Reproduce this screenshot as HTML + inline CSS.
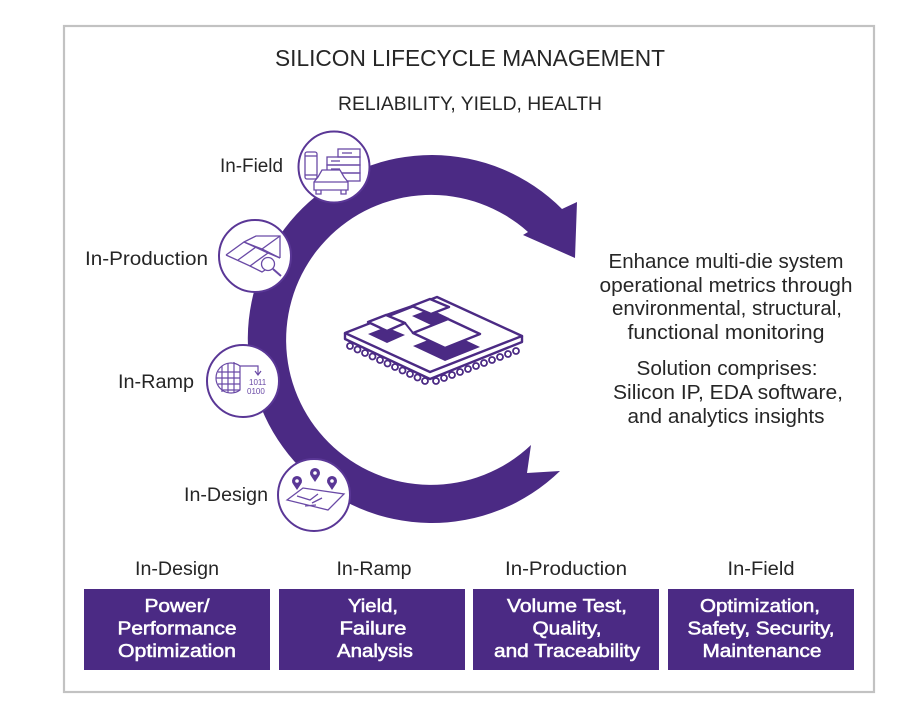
<!DOCTYPE html>
<html>
<head>
<meta charset="utf-8">
<style>
  html,body{margin:0;padding:0;background:#fff;}
  svg{display:block;}
  text{font-family:"Liberation Sans",Arial,sans-serif;}
</style>
</head>
<body>
<svg width="906" height="715" viewBox="0 0 906 715" xmlns="http://www.w3.org/2000/svg">
  <rect width="906" height="715" fill="#fff"/>
  <!-- frame -->
  <rect x="64" y="26" width="810" height="666" fill="#fff" stroke="#c2c2c2" stroke-width="2.2"/>

  <!-- titles -->
  <text x="470" y="66" font-size="23" fill="#262626" text-anchor="middle" textLength="390" lengthAdjust="spacingAndGlyphs">SILICON LIFECYCLE MANAGEMENT</text>
  <text x="470" y="110" font-size="19" fill="#262626" text-anchor="middle" textLength="264" lengthAdjust="spacingAndGlyphs">RELIABILITY, YIELD, HEALTH</text>

  <!-- big arc arrow -->
  <path d="M 560,471 A 184 184 0 1 1 562,209 L 577,202 L 575,258 L 523,235 L 528,232 A 145 145 0 1 0 531,445 L 527,473 Z" fill="#4b2a84"/>

  <!-- circles -->
  <g fill="#fff" stroke="#5a3796" stroke-width="2">
    <circle cx="334" cy="167" r="35.5"/>
    <circle cx="255" cy="256" r="36"/>
    <circle cx="243" cy="381" r="36"/>
    <circle cx="314" cy="495" r="36"/>
  </g>

  <!-- In-Field icon -->
  <g fill="none" stroke="#6a4aa6" stroke-width="1.3">
    <rect x="305" y="152" width="12" height="27" rx="2"/>
    <line x1="305" y1="156" x2="317" y2="156"/>
    <line x1="305" y1="175" x2="317" y2="175"/>
    <rect x="338" y="149" width="22" height="8"/>
    <rect x="327" y="157" width="33" height="8"/>
    <rect x="327" y="165" width="33" height="8"/>
    <rect x="338" y="173" width="22" height="8"/>
    <line x1="342" y1="153" x2="352" y2="153"/>
    <line x1="331" y1="161" x2="340" y2="161"/>
    <line x1="331" y1="169" x2="340" y2="169"/>
    <path d="M314,190 L314,182 L318,177 L322,170 L340,170 L344,177 L348,182 L348,190 Z" fill="#fff"/>
    <line x1="314" y1="182" x2="348" y2="182"/>
    <path d="M316,190 L316,194 L321,194 L321,190 M341,190 L341,194 L346,194 L346,190"/>
  </g>

  <!-- In-Production icon -->
  <g fill="none" stroke="#6a4aa6" stroke-width="1.3">
    <path d="M226,255 L244,242 L262,249 L280,236"/>
    <path d="M226,255 L250,266 L268,253 L280,258"/>
    <path d="M244,242 L268,253 M262,249 L280,258"/>
    <path d="M238,260 L256,247"/>
    <path d="M250,266 L262,272 L268,268"/>
    <path d="M244,242 L256,236 L280,236 L280,258"/>
    <circle cx="268" cy="264" r="6.5" fill="#fff"/>
    <line x1="273" y1="269" x2="281" y2="276" stroke-width="2"/>
  </g>

  <!-- In-Ramp icon -->
  <g fill="none" stroke="#6a4aa6" stroke-width="1.2">
    <path d="M240,366 A15 15 0 1 0 240,390 L240,366 Z"/>
    <path d="M218,372 L240,372 M216,378 L240,378 M218,384 L240,384 M222,390 L240,390"/>
    <path d="M222,366 L222,392 M228,363 L228,393 M234,362 L234,393"/>
    <path d="M240,366 L258,366 L258,374"/>
    <path d="M255,371 L258,375 L261,371"/>
  </g>
  <text x="249" y="385" font-size="8" fill="#6a4aa6" font-family="Liberation Mono,monospace">1011</text>
  <text x="247" y="394" font-size="8" fill="#6a4aa6" font-family="Liberation Mono,monospace">0100</text>

  <!-- In-Design icon -->
  <g fill="none" stroke="#6a4aa6" stroke-width="1.3">
    <path d="M287,500 L303,488 L344,494 L328,510 Z" fill="#fff"/>
    <path d="M297,496 L310,500 L318,494 M312,503 L322,498 M305,506 L316,505"/>
  </g>
  <g fill="#5a3796">
    <path d="M297,490 L293,484 A5 5 0 1 1 301,484 Z"/>
    <path d="M315,482 L311,476 A5 5 0 1 1 319,476 Z"/>
    <path d="M332,490 L328,484 A5 5 0 1 1 336,484 Z"/>
  </g>
  <g fill="#fff">
    <circle cx="297" cy="481" r="1.8"/>
    <circle cx="315" cy="473" r="1.8"/>
    <circle cx="332" cy="481" r="1.8"/>
  </g>

  <!-- chip -->
  <g stroke="#4b2a84" stroke-width="2.4" stroke-linejoin="round" fill="none">
    <g stroke-width="1.8" fill="#fff">
      <circle cx="350" cy="346" r="3"/>
      <circle cx="357.5" cy="349.5" r="3"/>
      <circle cx="365" cy="353" r="3"/>
      <circle cx="372.5" cy="356.5" r="3"/>
      <circle cx="380" cy="360" r="3"/>
      <circle cx="387.5" cy="363.5" r="3"/>
      <circle cx="395" cy="367" r="3"/>
      <circle cx="402.5" cy="370.5" r="3"/>
      <circle cx="410" cy="374" r="3"/>
      <circle cx="417.5" cy="377.5" r="3"/>
      <circle cx="425" cy="381" r="3"/>
      <circle cx="436" cy="381" r="3"/>
      <circle cx="444" cy="378" r="3"/>
      <circle cx="452" cy="375" r="3"/>
      <circle cx="460" cy="372" r="3"/>
      <circle cx="468" cy="369" r="3"/>
      <circle cx="476" cy="366" r="3"/>
      <circle cx="484" cy="363" r="3"/>
      <circle cx="492" cy="360" r="3"/>
      <circle cx="500" cy="357" r="3"/>
      <circle cx="508" cy="354" r="3"/>
      <circle cx="516" cy="351" r="3"/>
    </g>
    <path d="M345,333 L345,339 L430,379 L522,342 L522,336" fill="#fff"/>
    <path d="M345,333 L437,297 L522,336 L430,372 Z" fill="#fff"/>
  </g>
  <g fill="#4b2a84">
    <path d="M368,334 L386,327 L405,335 L387,343 Z"/>
    <path d="M412,316 L430,309 L449,318 L431,325 Z"/>
    <path d="M413,346 L448,332 L480,347 L445,361 Z"/>
  </g>
  <g stroke="#4b2a84" stroke-width="2" fill="none">
    <path d="M386,315 L412,306"/>
    <path d="M405,323 L413,333"/>
  </g>
  <g fill="#fff" stroke="#4b2a84" stroke-width="2.4" stroke-linejoin="round">
    <path d="M368,322 L386,315 L405,323 L387,331 Z"/>
    <path d="M412,306 L430,299 L449,307 L431,314 Z"/>
    <path d="M413,333 L448,319 L480,334 L445,348 Z"/>
  </g>

  <!-- left labels -->
  <g font-size="19" fill="#262626" text-anchor="end">
    <text x="283" y="172" textLength="63" lengthAdjust="spacingAndGlyphs">In-Field</text>
    <text x="208" y="265" textLength="123" lengthAdjust="spacingAndGlyphs">In-Production</text>
    <text x="194" y="388" textLength="76" lengthAdjust="spacingAndGlyphs">In-Ramp</text>
    <text x="268" y="501" textLength="84" lengthAdjust="spacingAndGlyphs">In-Design</text>
  </g>

  <!-- right text block -->
  <g font-size="20" fill="#262626" text-anchor="middle">
    <text x="726" y="268" textLength="235" lengthAdjust="spacingAndGlyphs">Enhance multi-die system</text>
    <text x="726" y="292" textLength="253" lengthAdjust="spacingAndGlyphs">operational metrics through</text>
    <text x="727" y="315" textLength="230" lengthAdjust="spacingAndGlyphs">environmental, structural,</text>
    <text x="726" y="339" textLength="197" lengthAdjust="spacingAndGlyphs">functional monitoring</text>
    <text x="727" y="375" textLength="181" lengthAdjust="spacingAndGlyphs">Solution comprises:</text>
    <text x="728" y="399" textLength="230" lengthAdjust="spacingAndGlyphs">Silicon IP, EDA software,</text>
    <text x="726" y="423" textLength="197" lengthAdjust="spacingAndGlyphs">and analytics insights</text>
  </g>

  <!-- bottom headers -->
  <g font-size="19" fill="#262626" text-anchor="middle">
    <text x="177" y="575" textLength="84" lengthAdjust="spacingAndGlyphs">In-Design</text>
    <text x="374" y="575" textLength="75" lengthAdjust="spacingAndGlyphs">In-Ramp</text>
    <text x="566" y="575" textLength="122" lengthAdjust="spacingAndGlyphs">In-Production</text>
    <text x="761" y="575" textLength="67" lengthAdjust="spacingAndGlyphs">In-Field</text>
  </g>

  <!-- boxes -->
  <g fill="#4b2a84">
    <rect x="84" y="589" width="186" height="81"/>
    <rect x="279" y="589" width="186" height="81"/>
    <rect x="473" y="589" width="186" height="81"/>
    <rect x="668" y="589" width="186" height="81"/>
  </g>
  <g font-size="18.5" fill="#fff" stroke="#fff" stroke-width="0.55" text-anchor="middle">
    <text x="177" y="612" textLength="65" lengthAdjust="spacingAndGlyphs">Power/</text>
    <text x="177" y="634.5" textLength="119" lengthAdjust="spacingAndGlyphs">Performance</text>
    <text x="177" y="657" textLength="118" lengthAdjust="spacingAndGlyphs">Optimization</text>

    <text x="373" y="612" textLength="50" lengthAdjust="spacingAndGlyphs">Yield,</text>
    <text x="373" y="634.5" textLength="67" lengthAdjust="spacingAndGlyphs">Failure</text>
    <text x="375" y="657" textLength="76" lengthAdjust="spacingAndGlyphs">Analysis</text>

    <text x="567" y="612" textLength="120" lengthAdjust="spacingAndGlyphs">Volume Test,</text>
    <text x="567" y="634.5" textLength="69" lengthAdjust="spacingAndGlyphs">Quality,</text>
    <text x="567" y="657" textLength="146" lengthAdjust="spacingAndGlyphs">and Traceability</text>

    <text x="760" y="612" textLength="120" lengthAdjust="spacingAndGlyphs">Optimization,</text>
    <text x="761" y="634.5" textLength="147" lengthAdjust="spacingAndGlyphs">Safety, Security,</text>
    <text x="762" y="657" textLength="119" lengthAdjust="spacingAndGlyphs">Maintenance</text>
  </g>
</svg>
</body>
</html>
